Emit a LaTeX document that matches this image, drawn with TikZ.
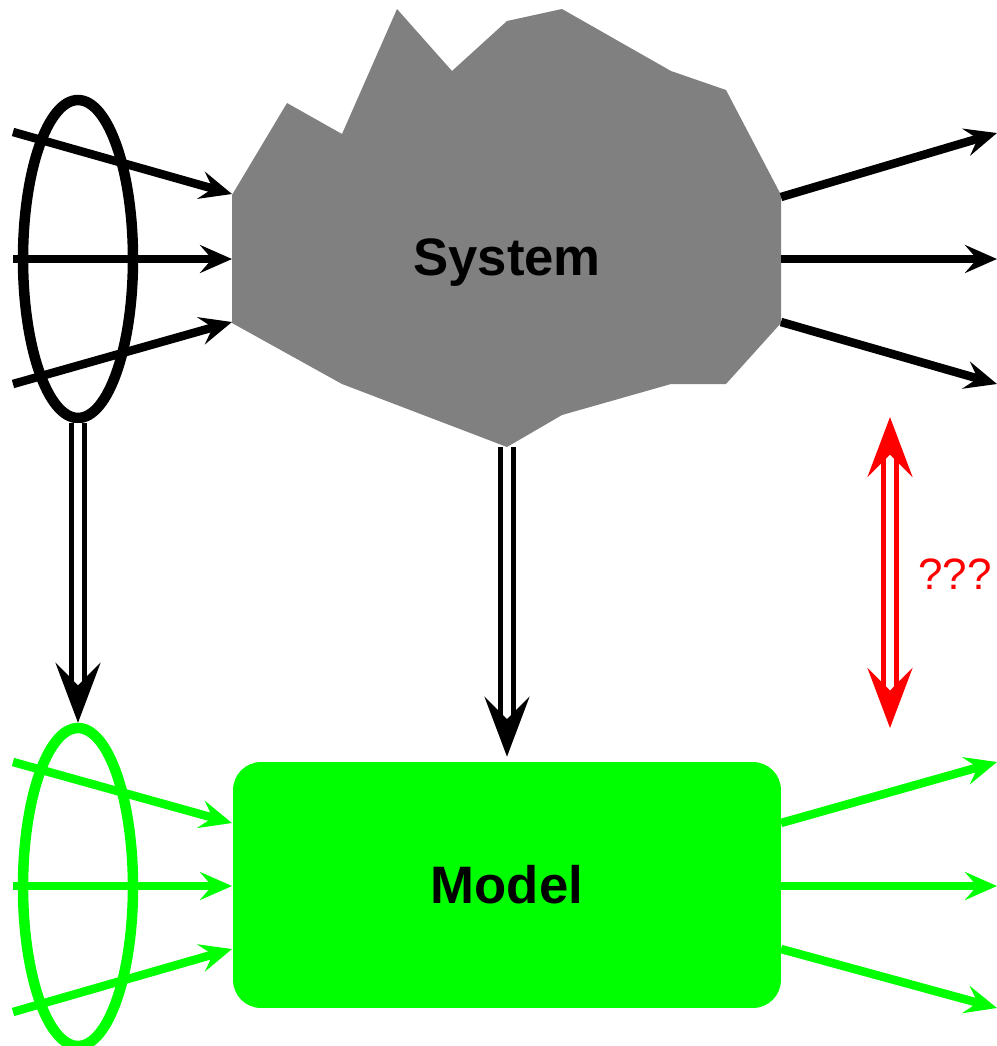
\documentclass[tikz,border=0pt]{standalone}
\usepackage{fontspec}
\setmainfont{Liberation Sans}
\usetikzlibrary{arrows.meta,shapes.geometric}
\definecolor{sysgray}{RGB}{128,128,128}
\definecolor{mgreen}{RGB}{0,255,0}
\definecolor{qred}{RGB}{255,0,0}
\begin{document}
\begin{tikzpicture}[x=0.02cm,y=-0.02cm,
  flow/.style={line width=0.17cm, -{Stealth[length=0.64cm,width=0.56cm,inset=0.24cm]}},
  ring/.style={ellipse, draw, line width=0.21cm, minimum width=2.2cm, minimum height=6.36cm, inner sep=0pt},
  bigtip/.tip={Stealth[length=1.2cm,width=0.9cm,inset=0.45cm]},
  dbl/.style={double, double distance=0.17cm, line width=0.1cm},
  lbl/.style={font=\bfseries\fontsize{30}{36}\selectfont, inner sep=0pt}]
\useasboundingbox (0,0) rectangle (997,1046);

% System
\fill[sysgray] (232,195) -- (287,103) -- (342,134) -- (397,9) -- (452,71) -- (507,21)
  -- (562,9) -- (671,71) -- (726,90) -- (781,195) -- (781,323) -- (726,384) -- (671,384)
  -- (562,415) -- (507,447) -- (342,384) -- (232,323) -- cycle;
\node[lbl, anchor=base] (sys) at (507,275) {System};
\coordinate (si1) at (232,194);
\coordinate (si2) at (232,259);
\coordinate (si3) at (232,322);
\coordinate (so1) at (781,197);
\coordinate (so2) at (781,259);
\coordinate (so3) at (781,322);
\coordinate (sbot) at (507,447);

% Model
\node[fill=mgreen, rounded corners=0.56cm, minimum width=10.96cm, minimum height=4.92cm, lbl] (model) at (507,885) {Model};

% ellipses
\node[ring] (inE) at (78,259) {};
\node[ring, draw=mgreen] (outE) at (78,887) {};

% system inputs / outputs
\coordinate (a1) at (13,132);
\coordinate (a2) at (13,259);
\coordinate (a3) at (13,384);
\coordinate (b1) at (997,133);
\coordinate (b2) at (997,259);
\coordinate (b3) at (997,384);
\draw[flow] (a1) -- (si1);
\draw[flow] (a2) -- (si2);
\draw[flow] (a3) -- (si3);
\draw[flow] (so1) -- (b1);
\draw[flow] (so2) -- (b2);
\draw[flow] (so3) -- (b3);

% model inputs / outputs
\coordinate (c1) at (13,762);
\coordinate (c2) at (13,886);
\coordinate (c3) at (13,1012);
\coordinate (mi1) at (232,823);
\coordinate (mi2) at (232,886);
\coordinate (mi3) at (232,949);
\coordinate (mo1) at (781,823);
\coordinate (mo2) at (781,886);
\coordinate (mo3) at (781,949);
\coordinate (d1) at (997,762);
\coordinate (d2) at (997,886);
\coordinate (d3) at (997,1008);
\begin{scope}[mgreen]
\draw[flow] (c1) -- (mi1);
\draw[flow] (c2) -- (mi2);
\draw[flow] (c3) -- (mi3);
\draw[flow] (mo1) -- (d1);
\draw[flow] (mo2) -- (d2);
\draw[flow] (mo3) -- (d3);
\end{scope}

% double arrows
\draw[dbl, -bigtip] (inE.south) -- (outE.north);
\draw[dbl, -bigtip, shorten >=0.1cm] (sbot) -- (model.north);
\coordinate (r1) at (890,417);
\coordinate (r2) at (890,728);
\draw[dbl, draw=qred, bigtip-bigtip] (r1) -- (r2);
\node[text=qred, font=\fontsize{25}{30}\selectfont, anchor=base west, inner sep=0pt] (q) at (918,589) {???};
\end{tikzpicture}
\end{document}
